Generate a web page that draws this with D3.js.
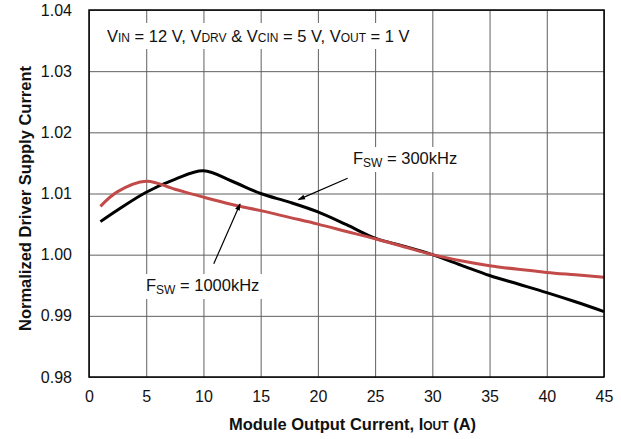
<!DOCTYPE html>
<html>
<head>
<meta charset="utf-8">
<script src="https://cdn.jsdelivr.net/npm/d3@7"></script>
<style>
  body { margin: 0; background: #fff; }
  text { font-family: "Liberation Sans", Arial, Helvetica, sans-serif; }
</style>
</head>
<body>
<div id="chart"></div>
<script>
// data
const currents = [1, 2.5, 5, 7.5, 10, 12.5, 15, 17.5, 20, 22.5, 25, 27.5, 30, 32.5, 35, 37.5, 40, 42.5, 45];
const fsw300 = [1.0054, 1.0073, 1.0102, 1.0123, 1.0137, 1.0120, 1.0100, 1.0086, 1.0070, 1.0049, 1.0027, 1.0014, 1.0000, 0.9983, 0.9966, 0.9952, 0.9938, 0.9923, 0.9907];
const fsw1000 = [1.0079, 1.0103, 1.0120, 1.0107, 1.0094, 1.0082, 1.0072, 1.0061, 1.0050, 1.0038, 1.0026, 1.0013, 1.0000, 0.9990, 0.9982, 0.9976, 0.9971, 0.9967, 0.9963];
const xTicks = [0, 5, 10, 15, 20, 25, 30, 35, 40, 45];
const yTicks = [0.98, 0.99, 1.00, 1.01, 1.02, 1.03, 1.04];

const W = 621, H = 439;
const margin = { top: 10, right: 17, bottom: 62, left: 89 };
const width = W - margin.left - margin.right;
const height = H - margin.top - margin.bottom;

const svg = d3.select('#chart')
  .append('svg')
  .attr('width', W)
  .attr('height', H);

const g = svg.append('g')
  .attr('transform', `translate(${margin.left},${margin.top})`);

const x = d3.scaleLinear().domain([0, 45]).range([0, width]);
const y = d3.scaleLinear().domain([0.98, 1.04]).range([height, 0]);

// grid
g.append('g')
  .attr('transform', `translate(0,${height})`)
  .call(d3.axisBottom(x).tickValues(xTicks).tickSize(-height).tickPadding(11).tickFormat(d3.format('d')))
  .call(a => a.select('.domain').remove())
  .call(a => a.selectAll('line').attr('stroke', '#606060').attr('stroke-width', 1))
  .call(a => a.selectAll('text').attr('font-size', 16).attr('fill', '#111').attr('dy', '0.9em'));

g.append('g')
  .call(d3.axisLeft(y).tickValues(yTicks).tickSize(-width).tickPadding(17).tickFormat(d3.format('.2f')))
  .call(a => a.select('.domain').remove())
  .call(a => a.selectAll('line').attr('stroke', '#606060').attr('stroke-width', 1))
  .call(a => a.selectAll('text').attr('font-size', 16).attr('fill', '#111'));

// labels with white boxes that hide the grid
function label(px, py, parts, pad) {
  const grp = g.append('g');
  const rect = grp.append('rect').attr('fill', '#fff');
  const t = grp.append('text')
    .attr('x', px).attr('y', py)
    .attr('font-size', 16.5).attr('fill', '#111');
  parts.forEach(p => {
    const ts = t.append('tspan').text(p.t);
    if (p.sub) ts.attr('font-size', 12).attr('dy', p.dy || 0);
    else if (p.dy) ts.attr('dy', p.dy);
  });
  const b = t.node().getBBox();
  rect.attr('x', b.x - pad[0]).attr('y', b.y - pad[1])
    .attr('width', b.width + 2 * pad[0]).attr('height', b.height + 2 * pad[1]);
}

label(18, 32, [
  { t: 'V' }, { t: 'IN', sub: true }, { t: ' = 12 V, V' }, { t: 'DRV', sub: true },
  { t: ' & V' }, { t: 'CIN', sub: true }, { t: ' = 5 V, V' }, { t: 'OUT', sub: true }, { t: ' = 1 V' }
], [4, 4]);

label(264, 154, [{ t: 'F' }, { t: 'SW', sub: true, dy: 3 }, { t: ' = 300kHz', dy: -3 }], [3, 2]);
label(57, 281, [{ t: 'F' }, { t: 'SW', sub: true, dy: 3 }, { t: ' = 1000kHz', dy: -3 }], [3, 2]);

// curves
const line = d3.line()
  .x(d => x(d[0]))
  .y(d => y(d[1]))
  .curve(d3.curveCatmullRom.alpha(0.5));

g.append('path')
  .datum(currents.map((c, i) => [c, fsw300[i]]))
  .attr('fill', 'none')
  .attr('stroke', '#000')
  .attr('stroke-width', 3)
  .attr('d', line);

g.append('path')
  .datum(currents.map((c, i) => [c, fsw1000[i]]))
  .attr('fill', 'none')
  .attr('stroke', '#c24b49')
  .attr('stroke-width', 3)
  .attr('d', line);

// arrows
svg.append('defs').append('marker')
  .attr('id', 'ah')
  .attr('viewBox', '0 0 10 10')
  .attr('refX', 9).attr('refY', 5)
  .attr('markerWidth', 7).attr('markerHeight', 6)
  .attr('orient', 'auto')
  .append('path')
  .attr('d', 'M0,1.5 L10,5 L0,8.5 z')
  .attr('fill', '#000');

function arrow(x1, y1, x2, y2) {
  g.append('line')
    .attr('x1', x(x1)).attr('y1', y(y1))
    .attr('x2', x(x2)).attr('y2', y(y2))
    .attr('stroke', '#000').attr('stroke-width', 1.2)
    .attr('marker-end', 'url(#ah)');
}
arrow(22.6, 1.0125, 18.3, 1.0090);
arrow(10.9, 0.9985, 13.2, 1.0083);

// frame
g.append('rect')
  .attr('width', width).attr('height', height)
  .attr('fill', 'none').attr('stroke', '#000').attr('stroke-width', 1.5);

// axis titles
svg.append('text')
  .attr('x', margin.left + width / 2 + 6).attr('y', 430)
  .attr('text-anchor', 'middle')
  .attr('font-size', 16.5).attr('font-weight', 'bold').attr('fill', '#111')
  .call(t => {
    t.append('tspan').text('Module Output Current, I');
    t.append('tspan').text('OUT').attr('font-size', 12);
    t.append('tspan').text(' (A)');
  });

svg.append('text')
  .attr('transform', `translate(31,${margin.top + height / 2 + 5}) rotate(-90)`)
  .attr('text-anchor', 'middle')
  .attr('font-size', 16.5).attr('font-weight', 'bold').attr('fill', '#111')
  .text('Normalized Driver Supply Current');
</script>
</body>
</html>
